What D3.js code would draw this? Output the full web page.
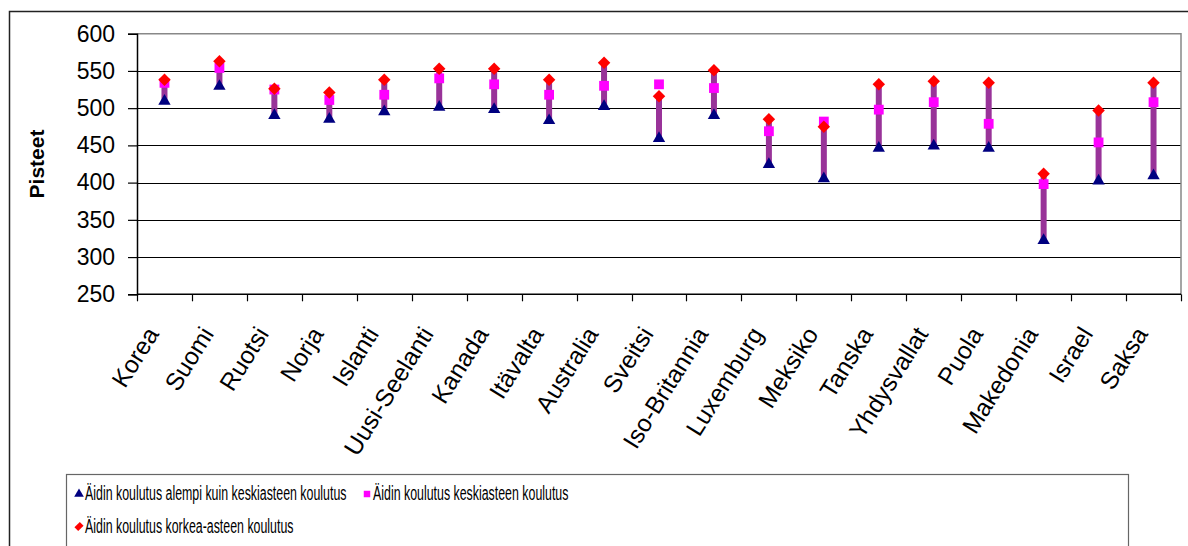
<!DOCTYPE html>
<html>
<head>
<meta charset="utf-8">
<script src="https://cdn.jsdelivr.net/npm/d3@7"></script>
<style>
  body { margin: 0; background: #fff; }
  svg { display: block; font-family: "Liberation Sans", Arial, sans-serif; }
</style>
</head>
<body>
<svg id="chart"></svg>
<script>
// Äidin koulutus vs. pisteet
const categories = ['Korea', 'Suomi', 'Ruotsi', 'Norja', 'Islanti', 'Uusi-Seelanti', 'Kanada',
  'Itävalta', 'Australia', 'Sveitsi', 'Iso-Britannia', 'Luxemburg', 'Meksiko', 'Tanska',
  'Yhdysvallat', 'Puola', 'Makedonia', 'Israel', 'Saksa'];
const lowEdu = [508, 528, 489, 484, 494, 500, 497, 482, 501, 458, 489, 423, 404, 445, 448, 445, 321, 401, 408];
const midEdu = [534, 554, 525, 511, 518, 540, 532, 518, 530, 532, 527, 469, 482, 498, 508, 479, 398, 454, 508];
const highEdu = [538, 563, 526, 521, 538, 553, 553, 538, 561, 516, 551, 485, 475, 532, 536, 534, 412, 497, 534];
const yTicks = [250, 300, 350, 400, 450, 500, 550, 600];
const legendLabels = [
  'Äidin koulutus alempi kuin keskiasteen koulutus',
  'Äidin koulutus keskiasteen koulutus',
  'Äidin koulutus korkea-asteen koulutus'
];

const W = 1188, H = 546;
const plot = {left: 137, right: 1181, top: 33.7, bottom: 294.3};

const svg = d3.select('#chart').attr('width', W).attr('height', H);

// outer chart border
svg.append('rect')
  .attr('x', 9.5).attr('y', 11.5)
  .attr('width', 1200).attr('height', 560)
  .attr('fill', 'none').attr('stroke', '#222').attr('stroke-width', 1.5);

const x = d3.scaleBand().domain(categories).range([plot.left, plot.right]);
const y = d3.scaleLinear().domain([250, 600]).range([plot.bottom, plot.top]);

// gridlines
svg.append('g')
  .selectAll('line')
  .data(yTicks.slice(1, -1))
  .join('line')
  .attr('x1', plot.left).attr('x2', plot.right)
  .attr('y1', d => Math.round(y(d)) + 0.5).attr('y2', d => Math.round(y(d)) + 0.5)
  .attr('stroke', '#000').attr('stroke-width', 1);

// plot area border (top + right)
svg.append('path')
  .attr('d', `M${plot.left},${y(600)}H${plot.right}V${plot.bottom}`)
  .attr('fill', 'none').attr('stroke', '#888').attr('stroke-width', 1.5);

// y axis
const yAxis = svg.append('g')
  .attr('transform', `translate(${plot.left},0)`)
  .call(d3.axisLeft(y).tickValues(yTicks).tickSize(9).tickPadding(13));
yAxis.select('.domain').attr('stroke', '#000').attr('stroke-width', 1.5);
yAxis.selectAll('.tick line').attr('stroke', '#000').attr('stroke-width', 1.2);
yAxis.selectAll('.tick text')
  .attr('font-size', 23).attr('fill', '#000')
  .attr('font-family', '"Liberation Sans", Arial, sans-serif');

svg.append('text')
  .attr('transform', `translate(44,${(plot.top + plot.bottom) / 2}) rotate(-90)`)
  .attr('text-anchor', 'middle')
  .attr('font-size', 21).attr('font-weight', 'bold')
  .text('Pisteet');

// x axis
const xAxis = svg.append('g');
xAxis.append('line')
  .attr('x1', plot.left).attr('x2', plot.right)
  .attr('y1', plot.bottom).attr('y2', plot.bottom)
  .attr('stroke', '#000').attr('stroke-width', 1.5);
xAxis.selectAll('.xtick')
  .data(categories.map(c => x(c)).concat([plot.right]))
  .join('line')
  .attr('class', 'xtick')
  .attr('x1', d => Math.round(d) + 0.5).attr('x2', d => Math.round(d) + 0.5)
  .attr('y1', plot.bottom).attr('y2', plot.bottom + 7)
  .attr('stroke', '#000').attr('stroke-width', 1.2);
xAxis.selectAll('.xlabel')
  .data(categories)
  .join('text')
  .attr('class', 'xlabel')
  .attr('transform', d => `translate(${x(d) + x.bandwidth() / 2 - 12},${plot.bottom + 35}) rotate(-58)`)
  .attr('text-anchor', 'end')
  .attr('dy', '0.35em')
  .attr('font-size', 24.5)
  .text(d => d);

// high-low lines (low -> high)
const cx = c => x(c) + x.bandwidth() / 2;
svg.append('g')
  .selectAll('line')
  .data(categories)
  .join('line')
  .attr('x1', cx).attr('x2', cx)
  .attr('y1', (d, i) => y(lowEdu[i]))
  .attr('y2', (d, i) => y(highEdu[i]))
  .attr('stroke', '#993399').attr('stroke-width', 6);

const triangle = d3.symbol().type(d3.symbolTriangle).size(66);
const square = d3.symbol().type(d3.symbolSquare).size(96);
const diamond = d3.symbol().type(d3.symbolSquare).size(78);

svg.append('g')
  .selectAll('path')
  .data(categories)
  .join('path')
  .attr('d', triangle)
  .attr('transform', (d, i) => `translate(${cx(d)},${y(lowEdu[i]) - 1})`)
  .attr('fill', '#000080');

svg.append('g')
  .selectAll('path')
  .data(categories)
  .join('path')
  .attr('d', square)
  .attr('transform', (d, i) => `translate(${cx(d)},${y(midEdu[i])})`)
  .attr('fill', '#ff00ff');

svg.append('g')
  .selectAll('path')
  .data(categories)
  .join('path')
  .attr('d', diamond)
  .attr('transform', (d, i) => `translate(${cx(d)},${y(highEdu[i])}) rotate(45)`)
  .attr('fill', '#ff0000');

// legend
const legend = svg.append('g');
legend.append('rect')
  .attr('x', 66.5).attr('y', 474.5)
  .attr('width', 1062).attr('height', 80)
  .attr('fill', '#fff').attr('stroke', '#666').attr('stroke-width', 1.2);

const legendItems = [
  {label: legendLabels[0], type: d3.symbolTriangle, size: 40, color: '#000080', lx: 79, ly: 494, rot: 0},
  {label: legendLabels[1], type: d3.symbolSquare, size: 42, color: '#ff00ff', lx: 367, ly: 494, rot: 0},
  {label: legendLabels[2], type: d3.symbolSquare, size: 44, color: '#ff0000', lx: 79, ly: 526.5, rot: 45}
];
const items = legend.selectAll('g.item')
  .data(legendItems)
  .join('g')
  .attr('class', 'item');
items.append('path')
  .attr('d', d => d3.symbol().type(d.type).size(d.size)())
  .attr('transform', d => `translate(${d.lx},${d.ly}) rotate(${d.rot}) scale(${d.rot ? '0.8,1.15' : '1'})`)
  .attr('fill', d => d.color);
// condensed text, like the narrow legend font in the original
items.append('text')
  .attr('transform', d => `translate(${d.lx + 6},${d.ly + 6}) scale(0.635,1)`)
  .attr('font-size', 19.5)
  .text(d => d.label);
</script>
</body>
</html>
